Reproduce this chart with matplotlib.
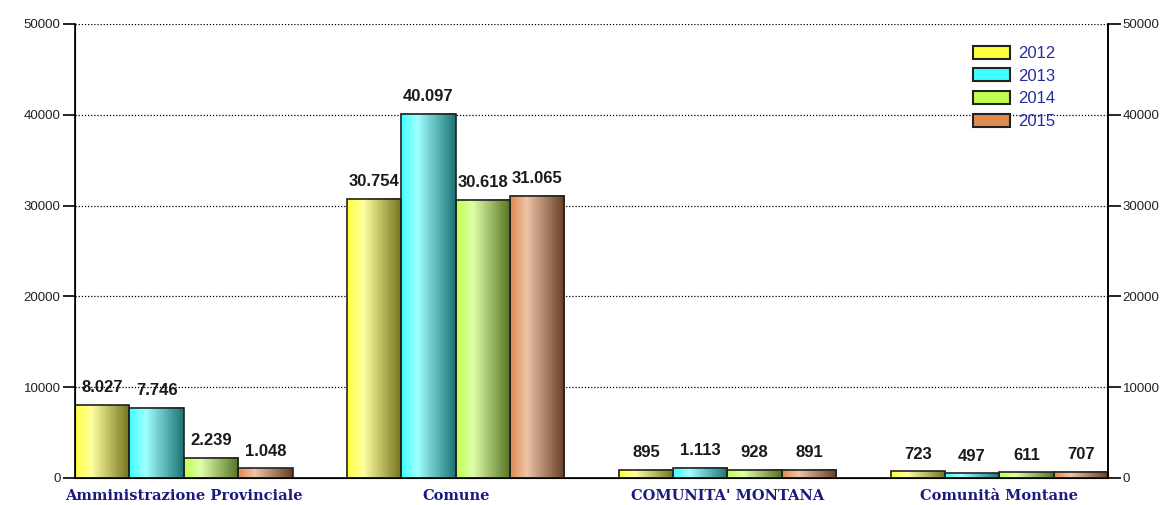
import numpy as np
import matplotlib
matplotlib.use("Agg")
import matplotlib.pyplot as plt
from matplotlib.colors import to_rgb
from matplotlib.patches import Patch

categories = ["Amministrazione Provinciale", "Comune", "COMUNITA' MONTANA", "Comunità Montane"]
years = ["2012", "2013", "2014", "2015"]
v2012 = [8027, 30754, 895, 723]
v2013 = [7746, 40097, 1113, 497]
v2014 = [2239, 30618, 928, 611]
v2015 = [1048, 31065, 891, 707]
series = [v2012, v2013, v2014, v2015]
colors = ["#ffff40", "#40ffff", "#c0ff50", "#e08a50"]


def gradient(base, n=64):
    b = np.array(to_rgb(base))
    light = b + (1 - b) * 0.5
    dark = b * 0.45
    t = np.linspace(0, 1, n)
    out = np.zeros((1, n, 3))
    for i, x in enumerate(t):
        if x < 0.3:
            f = x / 0.3
            out[0, i] = b * (1 - f) + light * f
        else:
            f = (x - 0.3) / 0.7
            out[0, i] = light * (1 - f) + dark * f
    return out


def fmt(v):
    return "{:,}".format(v).replace(",", ".")


fig = plt.figure(figsize=(11.73, 5.05), dpi=100)
ax = fig.add_axes([0.064, 0.0535, 0.8806, 0.899])

x = np.arange(len(categories))
w = 0.2
for i, (vals, c) in enumerate(zip(series, colors)):
    img = gradient(c)
    for xi, v in zip(x, vals):
        left = xi + (i - 1.5) * w - w / 2
        ax.imshow(img, extent=[left, left + w, 0, v], aspect="auto", zorder=2,
                  interpolation="bilinear")
        ax.add_patch(plt.Rectangle((left, 0), w, v, fill=False, edgecolor="#222222",
                                   linewidth=1.2, zorder=3))
        ax.annotate(fmt(v), (left + w / 2, v), xytext=(0, 7), textcoords="offset points",
                    ha="center", va="bottom", fontsize=12, fontweight="bold",
                    family="Liberation Sans", color="#1a1a1a", zorder=4)

ax.set_xlim(-0.4, 3.4)
ax.set_ylim(0, 50000)
ax.set_yticks(range(0, 50001, 10000))
ax.set_xticks(x)
ax.set_xticklabels(categories, fontsize=10.5, fontweight="bold", family="DejaVu Serif",
                   color="#1a1a80")
ax.tick_params(axis="x", length=0, pad=8)
ax.tick_params(axis="y", length=9, width=1.2, pad=1.5, labelsize=9.5, labelcolor="#222222")
for lab in ax.get_yticklabels():
    lab.set_family("Liberation Sans")
ax.grid(axis="y", linestyle=(0, (1, 1.5)), color="black", linewidth=0.9, zorder=1)
ax.set_axisbelow(True)
ax.spines["top"].set_visible(False)
for s in ["left", "right", "bottom"]:
    ax.spines[s].set_linewidth(1.2)

ax2 = ax.twinx()
ax2.set_ylim(0, 50000)
ax2.set_yticks(range(0, 50001, 10000))
ax2.tick_params(axis="y", length=9, width=1.2, pad=1.5, labelsize=9.5, labelcolor="#222222")
for lab in ax2.get_yticklabels():
    lab.set_family("Liberation Sans")
ax2.spines["top"].set_visible(False)
ax2.spines["right"].set_linewidth(1.2)

handles = [Patch(facecolor=c, edgecolor="#222222", linewidth=1.5) for c in colors]
leg = ax.legend(handles, years, loc="upper left", bbox_to_anchor=(0.855, 0.985), frameon=False,
                prop={"family": "Liberation Sans", "size": 12}, handlelength=2.2,
                handleheight=0.8, labelspacing=0.45, handletextpad=0.5)
for t in leg.get_texts():
    t.set_color("#2a2aa0")

fig.savefig("out.png", dpi=100)
